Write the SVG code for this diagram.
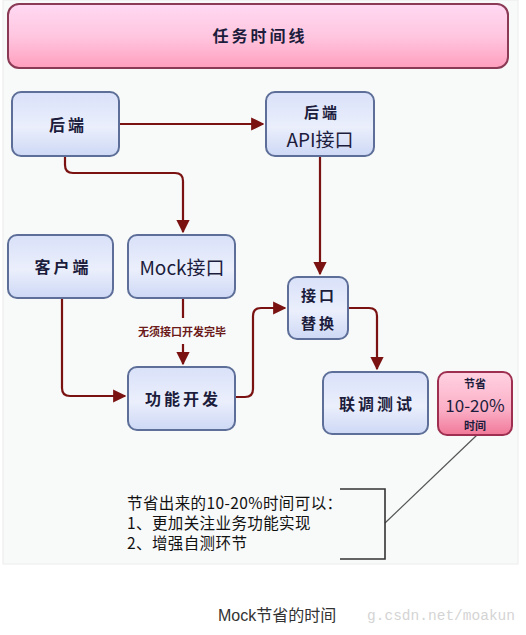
<svg xmlns="http://www.w3.org/2000/svg" width="526" height="635" viewBox="0 0 526 635">
<defs>
<linearGradient id="gb" x1="0" y1="0" x2="0" y2="1">
<stop offset="0" stop-color="#d9e1f9"/>
<stop offset="0.55" stop-color="#ebeffc"/>
<stop offset="1" stop-color="#cdd8f5"/>
</linearGradient>
<linearGradient id="gp" x1="0" y1="0" x2="0" y2="1">
<stop offset="0" stop-color="#ffd9f2"/>
<stop offset="0.5" stop-color="#ffc6e0"/>
<stop offset="1" stop-color="#ff9fbd"/>
</linearGradient>
<linearGradient id="gp2" x1="0" y1="0" x2="0" y2="1">
<stop offset="0" stop-color="#ffd3e2"/>
<stop offset="0.6" stop-color="#fbaec6"/>
<stop offset="1" stop-color="#f07898"/>
</linearGradient>
<marker id="ah" viewBox="0 0 10 10" refX="9" refY="5" markerWidth="6" markerHeight="6" orient="auto" markerUnits="strokeWidth">
<path d="M0,0 L10,5 L0,10 z" fill="#7a1212"/>
</marker>
<style>
.node{fill:url(#gb);stroke:#5d6f98;stroke-width:2}
.t{font-family:"Noto Sans CJK SC","Liberation Sans",sans-serif;font-weight:bold;fill:#1c1c3c;text-anchor:middle;dominant-baseline:central}
.n{font-weight:normal}
.ls{letter-spacing:3px}
.c{fill:none;stroke:#7a1212;stroke-width:2.2;marker-end:url(#ah)}
.note{font-family:"Noto Sans CJK SC","Liberation Sans",sans-serif;font-size:15.5px;letter-spacing:0.4px;fill:#111}
</style>
</defs>
<rect x="3" y="0" width="515" height="564" fill="#f8f9f9" stroke="#ececec"/>
<g id="title">
<rect x="8" y="4" width="500" height="64" rx="11" fill="url(#gp)" stroke="#8a3a55" stroke-width="2"/>
<text class="t ls" x="260" y="35" font-size="16">任务时间线</text>
</g>
<g id="connectors">
<path class="c" d="M119,124 H263"/>
<path class="c" d="M65,156 V165 Q65,173 73,173 H175 Q183,173 183,181 V232"/>
<path class="c" d="M320,156 V274"/>
<path fill="none" stroke="#7a1212" stroke-width="2.2" d="M183,298 V318"/>
<path class="c" d="M183,344 V364"/>
<path class="c" d="M62,298 V388 Q62,396 70,396 H125"/>
<path class="c" d="M235,397 H245 Q253,397 253,389 V316 Q253,308 261,308 H285"/>
<path class="c" d="M348,308 H369 Q377,308 377,316 V369"/>
<path fill="none" stroke="#555" stroke-width="1.2" d="M477,435 L385,523"/>
<text x="182" y="331" font-family="'Noto Sans CJK SC','Liberation Sans',sans-serif" font-size="11" font-weight="bold" fill="#6b1a1a" text-anchor="middle" dominant-baseline="central">无须接口开发完毕</text>
</g>
<g id="backend">
<rect class="node" x="12" y="92" width="107" height="64" rx="9"/>
<text class="t ls" x="68" y="124" font-size="16">后端</text>
</g>
<g id="api">
<rect class="node" x="266" y="92" width="108" height="64" rx="9"/>
<text class="t ls" x="322" y="111" font-size="15">后端</text>
<text class="t n" x="320" y="138" font-size="19">API接口</text>
</g>
<g id="client">
<rect class="node" x="8" y="235" width="105" height="63" rx="9"/>
<text class="t ls" x="63" y="266" font-size="16">客户端</text>
</g>
<g id="mock">
<rect class="node" x="128" y="235" width="107" height="63" rx="9"/>
<text class="t n" x="182" y="266" font-size="19">Mock接口</text>
</g>
<g id="replace">
<rect class="node" x="288" y="277" width="60" height="62" rx="9"/>
<text class="t ls" x="319" y="294" font-size="15">接口</text>
<text class="t ls" x="319" y="322" font-size="15">替换</text>
</g>
<g id="dev">
<rect class="node" x="128" y="367" width="107" height="63" rx="9"/>
<text class="t ls" x="183" y="398" font-size="16">功能开发</text>
</g>
<g id="test">
<rect class="node" x="323" y="372" width="105" height="62" rx="9"/>
<text class="t ls" x="377" y="403" font-size="16">联调测试</text>
</g>
<g id="save">
<rect x="438" y="372" width="74" height="63" rx="9" fill="url(#gp2)" stroke="#9e2f50" stroke-width="2"/>
<text class="t" x="475" y="383" font-size="11">节省</text>
<text class="t n" x="475" y="404" font-size="17">10-20%</text>
<text class="t" x="475" y="425" font-size="11">时间</text>
</g>
<g id="note">
<path d="M340,489 H385 V559 H340" fill="none" stroke="#333" stroke-width="1.6"/>
<text class="note" x="127" y="509">节省出来的10-20%时间可以：</text>
<text class="note" x="127" y="529">1、更加关注业务功能实现</text>
<text class="note" x="127" y="549">2、增强自测环节</text>
</g>
<text x="515" y="620" font-family="'Liberation Mono',monospace" font-size="14.5" fill="#d4d4d4" text-anchor="end">g.csdn.net/moakun</text>
<text x="218" y="621" font-family="'Liberation Sans','Noto Sans CJK SC',sans-serif" font-size="16" fill="#333">Mock节省的时间</text>
</svg>
